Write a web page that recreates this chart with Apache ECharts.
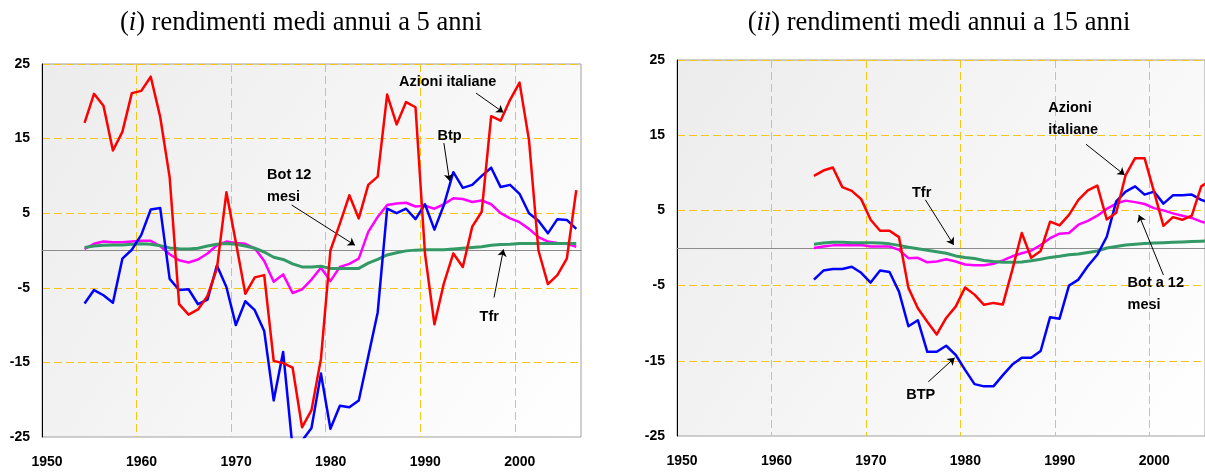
<!DOCTYPE html>
<html>
<head>
<meta charset="utf-8">
<script src="https://cdn.jsdelivr.net/npm/echarts@6/dist/echarts.min.js"></script>
<style>
  html, body { margin: 0; padding: 0; background: #fff; }
  #chart { width: 1205px; height: 472px; }
</style>
</head>
<body>
<div id="chart"></div>
<script>
// (i) rendimenti medi annui a 5 anni
const anni5 = [1954, 1955, 1956, 1957, 1958, 1959, 1960, 1961, 1962, 1963,
  1964, 1965, 1966, 1967, 1968, 1969, 1970, 1971, 1972, 1973,
  1974, 1975, 1976, 1977, 1978, 1979, 1980, 1981, 1982, 1983,
  1984, 1985, 1986, 1987, 1988, 1989, 1990, 1991, 1992, 1993,
  1994, 1995, 1996, 1997, 1998, 1999, 2000, 2001, 2002, 2003,
  2004, 2005, 2006];
const azioni5 = [17.1, 21.0, 19.4, 13.4, 15.9, 21.1, 21.4, 23.3, 17.9, 9.8,
  -7.2, -8.6, -7.9, -6.1, -2.4, 7.8, 1.1, -5.8, -3.6, -3.3,
  -14.8, -15.1, -15.7, -23.7, -21.4, -14.5, 0.0, 3.6, 7.4, 4.3,
  8.8, 9.9, 20.9, 16.9, 19.9, 19.2, -0.4, -9.9, -4.4, -0.4,
  -2.2, 3.2, 5.2, 18.0, 17.4, 20.2, 22.5, 14.8, 0.0, -4.5,
  -3.3, -1.1, 8.1];
const btp5 = [-7.1, -5.3, -6.0, -7.0, -1.1, 0.1, 2.1, 5.5, 5.7, -3.8,
  -5.3, -5.2, -7.2, -6.6, -2.0, -4.9, -10.0, -6.8, -8.0, -10.8,
  -20.1, -13.6, -26.5, -25.5, -23.8, -16.5, -23.9, -20.8, -21.0, -20.1,
  -14.2, -8.3, 5.6, 5.0, 5.6, 4.2, 6.2, 2.8, 6.1, 10.5,
  8.4, 8.8, 10.0, 11.1, 8.5, 8.8, 7.6, 5.0, 4.0, 2.3,
  4.2, 4.1, 2.9];
const bot5 = [0.2, 0.9, 1.2, 1.1, 1.1, 1.2, 1.3, 1.3, 0.6, -0.5,
  -1.3, -1.6, -1.2, -0.4, 0.7, 1.2, 1.0, 0.9, 0.3, -1.4,
  -4.2, -3.2, -5.7, -5.2, -3.9, -2.3, -4.1, -2.2, -1.8, -1.1,
  2.5, 4.5, 6.1, 6.3, 6.4, 5.9, 6.0, 5.6, 6.2, 7.0,
  6.9, 6.5, 6.7, 6.2, 5.0, 4.3, 3.8, 2.9, 1.8, 1.2,
  1.0, 0.9, 0.5];
const tfr5 = [0.4, 0.6, 0.7, 0.75, 0.75, 0.85, 0.9, 0.85, 0.65, 0.35,
  0.25, 0.2, 0.3, 0.6, 0.85, 0.95, 0.85, 0.6, 0.3, -0.2,
  -0.9, -1.2, -1.8, -2.2, -2.2, -2.1, -2.4, -2.4, -2.4, -2.4,
  -1.7, -1.2, -0.6, -0.3, -0.05, 0.05, 0.1, 0.1, 0.1, 0.2,
  0.3, 0.4, 0.5, 0.7, 0.8, 0.85, 0.95, 0.95, 0.95, 0.95,
  0.95, 0.95, 0.95];

// (ii) rendimenti medi annui a 15 anni
const anni15 = [1964, 1965, 1966, 1967, 1968, 1969, 1970, 1971, 1972, 1973,
  1974, 1975, 1976, 1977, 1978, 1979, 1980, 1981, 1982, 1983,
  1984, 1985, 1986, 1987, 1988, 1989, 1990, 1991, 1992, 1993,
  1994, 1995, 1996, 1997, 1998, 1999, 2000, 2001, 2002, 2003,
  2004, 2005, 2006];
const azioni15 = [9.6, 10.3, 10.7, 8.1, 7.6, 6.5, 3.75, 2.3, 2.3, 1.45,
  -5.3, -8.0, -9.8, -11.5, -9.3, -7.8, -5.25, -6.2, -7.55, -7.3,
  -7.5, -2.9, 2.0, -1.3, -0.4, 3.5, 3.0, 4.4, 6.4, 7.65,
  8.3, 3.8, 4.7, 9.7, 11.95, 11.95, 7.5, 2.95, 4.1, 3.75,
  4.3, 8.2, 9.0];
const btp15 = [-4.2, -3.0, -2.8, -2.8, -2.5, -3.3, -4.6, -3.0, -3.2, -5.8,
  -10.4, -9.6, -13.8, -13.8, -13.0, -14.2, -16.2, -18.1, -18.4, -18.4,
  -16.9, -15.5, -14.6, -14.6, -13.7, -9.2, -9.4, -5.0, -4.2, -2.4,
  -0.9, 1.5, 6.2, 7.5, 8.2, 7.1, 7.5, 5.9, 7.0, 7.0,
  7.1, 6.4, 6.0];
const bot15 = [0.0, 0.2, 0.35, 0.35, 0.35, 0.4, 0.2, 0.2, 0.2, -0.25,
  -1.35, -1.3, -1.9, -1.8, -1.5, -1.8, -2.2, -2.3, -2.3, -2.1,
  -1.65, -1.1, -0.7, -0.35, 0.4, 1.3, 1.9, 2.0, 3.1, 3.6,
  4.3, 5.2, 5.9, 6.3, 6.1, 5.85, 5.3, 5.0, 4.6, 4.3,
  4.0, 3.5, 3.2];
const tfr15 = [0.5, 0.65, 0.75, 0.75, 0.7, 0.7, 0.7, 0.65, 0.55, 0.35,
  0.1, -0.1, -0.3, -0.5, -0.7, -1.05, -1.25, -1.4, -1.65, -1.8,
  -1.9, -1.9, -1.85, -1.7, -1.5, -1.25, -1.1, -0.9, -0.8, -0.6,
  -0.4, 0.0, 0.2, 0.4, 0.5, 0.6, 0.65, 0.7, 0.75, 0.8,
  0.85, 0.9, 0.95];

// annotations: [text, x, y, align] and arrows [[x1, y1], [x2, y2]] in data units
const etichette5 = [
  ['Azioni italiane', 1992.9, 22.6, 'center'],
  ['Btp', 1993.1, 15.4, 'center'],
  ['Bot 12\nmesi', 1973.8, 8.6, 'left'],
  ['Tfr', 1997.3, -8.9, 'center']
];
const frecce5 = [
  [[1995.9, 21.1], [1998.8, 18.5]],
  [[1992.5, 14.4], [1993.1, 9.3]],
  [[1976.4, 6.1], [1983.1, 0.7]],
  [[1997.8, -6.3], [1998.8, 0.15]]
];
const etichette15 = [
  ['Azioni\nitaliane', 1989.3, 17.2, 'left'],
  ['Tfr', 1975.9, 7.3, 'center'],
  ['Bot a 12\nmesi', 1997.7, -6.1, 'left'],
  ['BTP', 1975.8, -19.5, 'center']
];
const frecce15 = [
  [[1993.3, 13.8], [1997.4, 9.7]],
  [[1976.3, 6.4], [1979.3, 0.4]],
  [[2001.5, -3.6], [1998.9, 4.4]],
  [[1976.6, -17.8], [1979.4, -14.6]]
];

const yTicks = [-25, -15, -5, 5, 15, 25];

const chart = echarts.init(document.getElementById('chart'));

const SANS = 'Liberation Sans, Arial, sans-serif';
const SERIF = 'Liberation Serif, Times New Roman, serif';
const gold = { color: '#f5c518', type: [8, 4], width: 1 };

// Excel draws each year in the middle of its category
const punti = (anni, vals) => anni.map((a, i) => [a + 0.5, vals[i]]);

function griglia(left, top, width, height) {
  return {
    left: left, top: top, width: width, height: height,
    show: true,
    borderColor: '#a0a0a0',
    borderWidth: 1,
    backgroundColor: new echarts.graphic.LinearGradient(0, 0, 1, 1, [
      { offset: 0, color: '#ececec' },
      { offset: 1, color: '#ffffff' }
    ])
  };
}

// the right panel runs past the page edge, so its axis stops a bit earlier
function assex(gi, max) {
  return {
    type: 'value', gridIndex: gi, min: 1950, max: max, interval: 10,
    axisLine: { show: true, lineStyle: { color: '#8c8c8c' } },
    axisTick: { show: false },
    axisLabel: {
      fontFamily: SANS, fontWeight: 'bold', fontSize: 14, color: '#000',
      margin: 18, padding: [0, 0, 0, 10], showMaxLabel: false,
      formatter: v => (v % 10 === 0 ? String(v) : '')
    },
    splitLine: { show: true, showMinLine: false, showMaxLine: false, lineStyle: gold }
  };
}

function assey(gi) {
  return {
    type: 'value', gridIndex: gi, min: -25, max: 25, interval: 10,
    axisLine: { show: true, lineStyle: { color: '#000' } },
    axisTick: { show: false },
    axisLabel: {
      fontFamily: SANS, fontWeight: 'bold', fontSize: 14, color: '#000', margin: 12,
      formatter: v => (yTicks.indexOf(v) >= 0 ? String(v) : '')
    },
    splitLine: { show: true, showMinLine: false, lineStyle: gold }
  };
}

function linea(name, gi, data, color, width, z) {
  return {
    name: name, type: 'line', xAxisIndex: gi, yAxisIndex: gi,
    data: data, showSymbol: false, symbol: 'none', z: z,
    lineStyle: { color: color, width: width, join: 'round' },
    animation: false, clip: true
  };
}

function annotazioni(gi, etichette, frecce) {
  return {
    name: 'note' + gi, type: 'line', xAxisIndex: gi, yAxisIndex: gi,
    data: [], z: 10, animation: false, silent: true,
    markLine: {
      silent: true, animation: false,
      symbol: ['none', 'arrow'], symbolSize: 7,
      label: { show: false },
      lineStyle: { color: '#000', width: 1, type: 'solid' },
      emphasis: { disabled: true },
      data: [[{ yAxis: 0, symbol: 'none', lineStyle: { width: 1, color: '#000' } },
              { yAxis: 0, symbol: 'none' }]]
        .concat(frecce.map(f => [{ coord: f[0] }, { coord: f[1] }]))
    },
    markPoint: {
      silent: true, animation: false,
      symbol: 'circle', symbolSize: 1,
      itemStyle: { color: 'rgba(0,0,0,0)' },
      data: etichette.map(e => ({
        name: e[0], coord: [e[1], e[2]],
        label: {
          show: true, position: 'inside', formatter: '{b}',
          align: e[3], verticalAlign: 'middle',
          fontFamily: SANS, fontWeight: 'bold', fontSize: 14.5,
          lineHeight: 22, color: '#000'
        }
      }))
    }
  };
}

function titolo(numero, testo, cx) {
  return {
    text: '({it|' + numero + '}) ' + testo,
    left: cx, top: 5, textAlign: 'center',
    textStyle: {
      fontFamily: SERIF, fontSize: 26.5, fontWeight: 'normal', color: '#000',
      rich: { it: { fontFamily: SERIF, fontSize: 26.5, fontStyle: 'italic', color: '#000' } }
    }
  };
}

chart.setOption({
  animation: false,
  backgroundColor: '#ffffff',
  title: [
    titolo('i', 'rendimenti medi annui a 5 anni', 296),
    titolo('ii', 'rendimenti medi annui a 15 anni', 934)
  ],
  grid: [griglia(42, 64, 539, 373), griglia(677, 60, 528, 376)],
  xAxis: [assex(0, 2007), assex(1, 2005.9)],
  yAxis: [assey(0), assey(1)],
  series: [
    linea('Bot 12 mesi', 0, punti(anni5, bot5), '#ff00ff', 2.5, 2),
    linea('Tfr', 0, punti(anni5, tfr5), '#339966', 3, 3),
    linea('Btp', 0, punti(anni5, btp5), '#0000ff', 2.5, 4),
    linea('Azioni italiane', 0, punti(anni5, azioni5), '#ff0000', 2.5, 5),
    annotazioni(0, etichette5, frecce5),
    linea('Bot a 12 mesi', 1, punti(anni15, bot15), '#ff00ff', 2.5, 2),
    linea('Tfr', 1, punti(anni15, tfr15), '#339966', 3, 3),
    linea('BTP', 1, punti(anni15, btp15), '#0000ff', 2.5, 4),
    linea('Azioni italiane', 1, punti(anni15, azioni15), '#ff0000', 2.5, 5),
    annotazioni(1, etichette15, frecce15)
  ]
});
</script>
</body>
</html>
